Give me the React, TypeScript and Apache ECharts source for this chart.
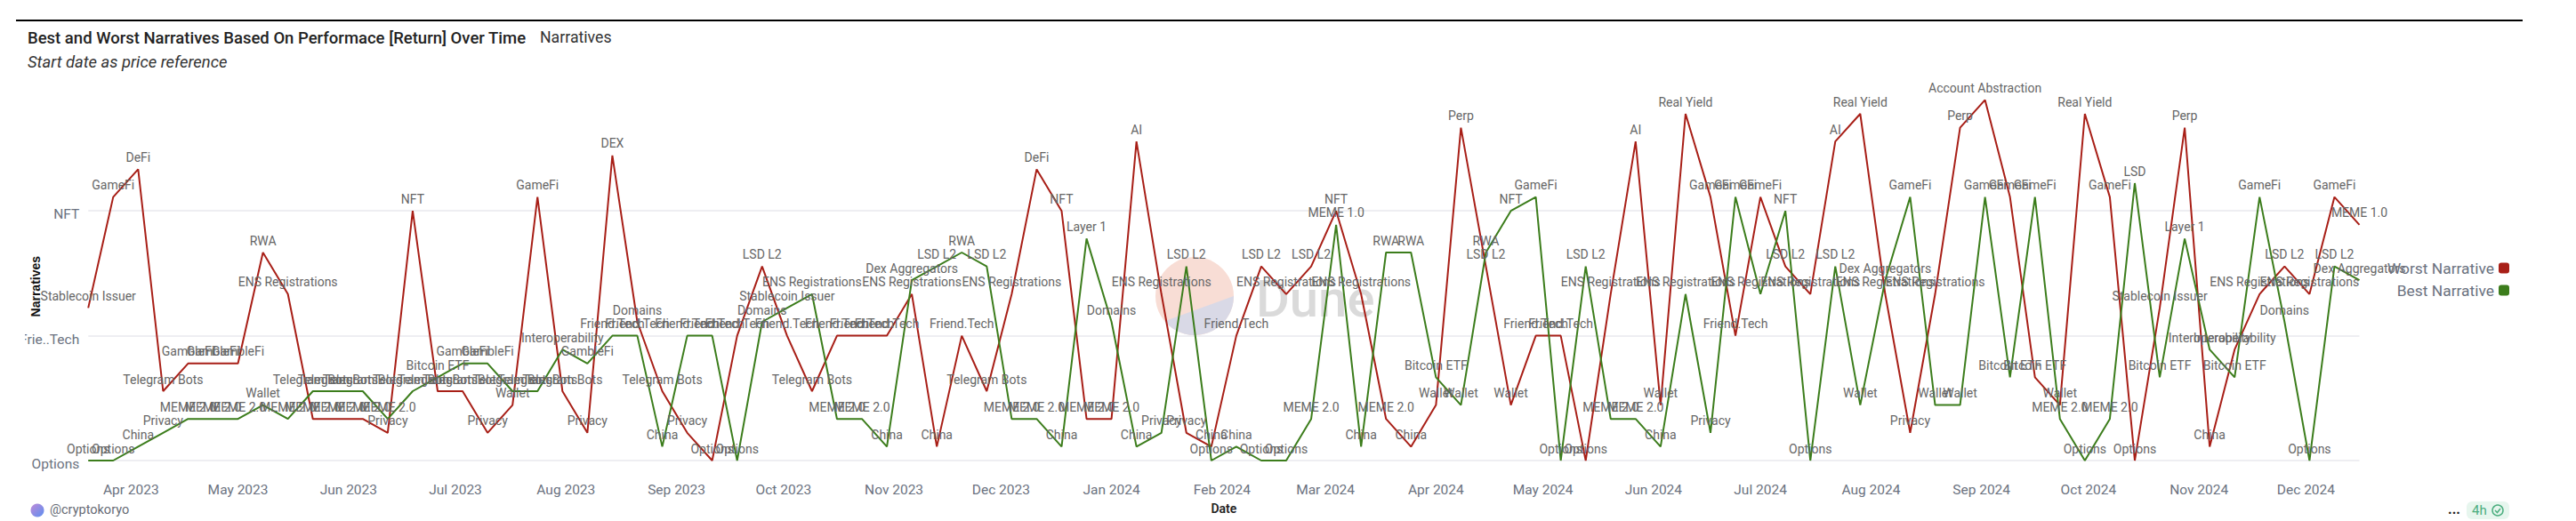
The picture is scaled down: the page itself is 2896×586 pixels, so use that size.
import React, { useEffect, useRef } from "react";
import * as echarts from "echarts";

const narrativeLevels = [
  "Options", "China", "Privacy", "MEME 2.0", "Wallet", "Telegram Bots", "Bitcoin ETF", "GambleFi", "Interoperability",
  "Friend.Tech", "Domains", "Stablecoin Issuer", "ENS Registrations", "Dex Aggregators", "LSD L2", "RWA", "Layer 1",
  "MEME 1.0", "NFT", "GameFi", "LSD", "DeFi", "DEX", "AI", "Perp", "Real Yield", "Account Abstraction",
];

const weeks = [
  "2023-03-20","2023-03-27","2023-04-03","2023-04-10","2023-04-17","2023-04-24","2023-05-01","2023-05-08","2023-05-15","2023-05-22","2023-05-29",
  "2023-06-05","2023-06-12","2023-06-19","2023-06-26","2023-07-03","2023-07-10","2023-07-17","2023-07-24","2023-07-31","2023-08-07","2023-08-14",
  "2023-08-21","2023-08-28","2023-09-04","2023-09-11","2023-09-18","2023-09-25","2023-10-02","2023-10-09","2023-10-16","2023-10-23","2023-10-30",
  "2023-11-06","2023-11-13","2023-11-20","2023-11-27","2023-12-04","2023-12-11","2023-12-18","2023-12-25","2024-01-01","2024-01-08","2024-01-15",
  "2024-01-22","2024-01-29","2024-02-05","2024-02-12","2024-02-19","2024-02-26","2024-03-04","2024-03-11","2024-03-18","2024-03-25","2024-04-01",
  "2024-04-08","2024-04-15","2024-04-22","2024-04-29","2024-05-06","2024-05-13","2024-05-20","2024-05-27","2024-06-03","2024-06-10","2024-06-17",
  "2024-06-24","2024-07-01","2024-07-08","2024-07-15","2024-07-22","2024-07-29","2024-08-05","2024-08-12","2024-08-19","2024-08-26","2024-09-02",
  "2024-09-09","2024-09-16","2024-09-23","2024-09-30","2024-10-07","2024-10-14","2024-10-21","2024-10-28","2024-11-04","2024-11-11","2024-11-18",
  "2024-11-25","2024-12-02","2024-12-09","2024-12-16",
];

const worstNarrative = [
  "Stablecoin Issuer","GameFi","DeFi","Telegram Bots","GambleFi","GambleFi","GambleFi","RWA","ENS Registrations","MEME 2.0",
  "MEME 2.0","MEME 2.0","Privacy","NFT","Telegram Bots","Telegram Bots","Privacy","Wallet","GameFi","Telegram Bots",
  "Privacy","DEX","Domains","Telegram Bots","Privacy","Options","Friend.Tech","LSD L2","Friend.Tech","Telegram Bots",
  "Friend.Tech","Friend.Tech","Friend.Tech","ENS Registrations","China","Friend.Tech","Telegram Bots","ENS Registrations","DeFi","NFT",
  "MEME 2.0","MEME 2.0","AI","ENS Registrations","Privacy","China","Friend.Tech","LSD L2","ENS Registrations","LSD L2",
  "NFT","ENS Registrations","MEME 2.0","China","Wallet","Perp","LSD L2","Wallet","Friend.Tech","Friend.Tech",
  "Options","ENS Registrations","AI","Wallet","Real Yield","GameFi","Friend.Tech","GameFi","LSD L2","ENS Registrations",
  "AI","Real Yield","ENS Registrations","Privacy","ENS Registrations","Perp","Account Abstraction","GameFi","Bitcoin ETF","Wallet",
  "Real Yield","GameFi","Options","Stablecoin Issuer","Perp","China","Interoperability","ENS Registrations","LSD L2","ENS Registrations",
  "GameFi","MEME 1.0",
];

const bestNarrative = [
  "Options","Options","China","Privacy","MEME 2.0","MEME 2.0","MEME 2.0","Wallet","MEME 2.0","Telegram Bots",
  "Telegram Bots","Telegram Bots","MEME 2.0","Telegram Bots","Bitcoin ETF","GambleFi","GambleFi","Telegram Bots","Telegram Bots","Interoperability",
  "GambleFi","Friend.Tech","Friend.Tech","China","Friend.Tech","Friend.Tech","Options","Domains","Stablecoin Issuer","ENS Registrations",
  "MEME 2.0","MEME 2.0","China","Dex Aggregators","LSD L2","RWA","LSD L2","MEME 2.0","MEME 2.0","China",
  "Layer 1","Domains","China","Privacy","LSD L2","Options","China","Options","Options","MEME 2.0",
  "MEME 1.0","China","RWA","RWA","Bitcoin ETF","Wallet","RWA","NFT","GameFi","Options",
  "LSD L2","MEME 2.0","MEME 2.0","China","ENS Registrations","Privacy","GameFi","ENS Registrations","NFT","Options",
  "LSD L2","Wallet","Dex Aggregators","GameFi","Wallet","Wallet","GameFi","Bitcoin ETF","GameFi","MEME 2.0",
  "Options","MEME 2.0","LSD","Bitcoin ETF","Layer 1","Interoperability","Bitcoin ETF","GameFi","Domains","Options",
  "LSD L2","Dex Aggregators",
];

const monthTicks = [
  "2023-04-01","2023-05-01","2023-06-01","2023-07-01","2023-08-01","2023-09-01","2023-10-01","2023-11-01","2023-12-01",
  "2024-01-01","2024-02-01","2024-03-01","2024-04-01","2024-05-01","2024-06-01","2024-07-01","2024-08-01","2024-09-01",
  "2024-10-01","2024-11-01","2024-12-01",
];

const RED = "#a81f17";
const GREEN = "#3c7d1c";
const FONT = "Roboto";
const AXIS_COLOR = "#6b7280";
const LABEL_COLOR = "#666666";

const ts = (d: string) => echarts.time.parse(d).getTime();

echarts.graphic.registerShape(
  "duneLower",
  echarts.graphic.extendPath("M 44 0 A 44 44 0 0 1 -33.7 28.3 Z", {})
);

function App() {
  const ref = useRef<HTMLDivElement>(null);
  useEffect(() => {
    const chart = echarts.init(ref.current!, undefined, { renderer: "svg" });
    const line = (name: string, values: string[], color: string) => ({
      name,
      type: "line",
      data: values.map((v, i) => [ts(weeks[i]), v]),
      showSymbol: true,
      showAllSymbol: true,
      symbol: "circle",
      symbolSize: 0,
      itemStyle: { color },
      lineStyle: { color, width: 2 },
      clip: false,
      label: {
        show: true,
        position: "top",
        distance: 6.5,
        fontFamily: FONT,
        fontSize: 14,
        color: LABEL_COLOR,
        formatter: (p: any) => p.value[1],
      },
    });
    chart.setOption({
      animation: false,
      backgroundColor: "#ffffff",
      textStyle: { fontFamily: FONT },
      title: [
        {
          text: "Best and Worst Narratives Based On Performace [Return] Over Time",
          left: 31,
          top: 33,
          padding: 0,
          textStyle: { fontFamily: FONT, fontSize: 18.5, fontWeight: 500, color: "#222222" },
        },
        {
          text: "Narratives",
          left: 607,
          top: 33,
          padding: 0,
          textStyle: { fontFamily: FONT, fontSize: 17.7, fontWeight: 400, color: "#333333" },
        },
        {
          text: "Start date as price reference",
          left: 31,
          top: 60,
          padding: 0,
          textStyle: { fontFamily: FONT, fontSize: 18.4, fontWeight: 400, fontStyle: "italic", color: "#333333" },
        },
      ],
      legend: {
        data: ["Worst Narrative", "Best Narrative"],
        orient: "vertical",
        align: "right",
        right: 75,
        top: 293,
        padding: 0,
        icon: "roundRect",
        itemWidth: 12,
        itemHeight: 12,
        itemGap: 8,
        textStyle: { fontFamily: FONT, fontSize: 17.4, color: AXIS_COLOR },
      },
      grid: { left: 99.2, right: 243.5, top: 112.4, bottom: 68, outerBoundsMode: "none" },
      xAxis: {
        type: "value",
        min: ts(weeks[0]),
        max: ts(weeks[weeks.length - 1]),
        name: "Date",
        nameLocation: "middle",
        nameMoveOverlap: false,
        nameGap: 47,
        nameTextStyle: { fontFamily: FONT, fontSize: 14, fontWeight: 600, color: "#222222" },
        axisLine: { show: false },
        axisTick: { show: false },
        splitLine: { show: false },
        axisLabel: {
          customValues: monthTicks.map(ts),
          formatter: (v: number) => echarts.time.format(v, "{MMM} {yyyy}", false),
          fontFamily: FONT,
          fontSize: 15.5,
          color: AXIS_COLOR,
          margin: 25,
          hideOverlap: false,
        },
      },
      yAxis: {
        type: "category",
        data: narrativeLevels,
        boundaryGap: false,
        name: "Narratives",
        nameLocation: "middle",
        nameMoveOverlap: false,
        nameGap: 52,
        nameTextStyle: { fontFamily: "Liberation Sans", fontSize: 14, fontWeight: "bold", color: "#111111", padding: [0, 14, 0, 0] },
        axisLine: { show: false },
        axisTick: { show: false },
        splitLine: { show: true, interval: 8, lineStyle: { color: "#e9e9ee", width: 1.5 } },
        axisLabel: {
          interval: 8,
          margin: 10,
          fontFamily: FONT,
          fontSize: 15.5,
          color: AXIS_COLOR,
          verticalAlign: "top",
          lineHeight: 8,
          formatter: (v: string) => (v === "Friend.Tech" ? "Frie..Tech" : v),
        },
      },
      series: [line("Worst Narrative", worstNarrative, RED), line("Best Narrative", bestNarrative, GREEN)],
      graphic: [
        { type: "rect", z: 100, shape: { x: 0, y: 368, width: 28, height: 30 }, style: { fill: "#ffffff" } },
        { type: "line", shape: { x1: 18, y1: 23, x2: 2836, y2: 23 }, style: { stroke: "#000000", lineWidth: 2 } },
        { type: "circle", z: -1, shape: { cx: 1343, cy: 333, r: 44 }, style: { fill: "#f8ddd5" } },
        { type: "duneLower", z: -1, x: 1343, y: 333, style: { fill: "#d9d9e6" } },
        {
          type: "text", z: -1, x: 1412, y: 307,
          style: { text: "Dune", fill: "#dadada", font: `500 58px ${FONT}` },
        },
        {
          type: "circle",
          shape: { cx: 42, cy: 574, r: 7.5 },
          style: {
            fill: new echarts.graphic.LinearGradient(0, 0, 1, 1, [
              { offset: 0, color: "#c08ad8" },
              { offset: 1, color: "#5b8ff0" },
            ]),
          },
        },
        {
          type: "text", x: 56, y: 566,
          style: { text: "@cryptokoryo", fill: "#666b75", font: `14.5px ${FONT}` },
        },
        {
          type: "text", x: 2752, y: 564,
          style: { text: "...", fill: "#222222", font: `bold 16px ${FONT}` },
        },
        { type: "rect", shape: { x: 2773, y: 564, width: 48, height: 20, r: 6 }, style: { fill: "#e7f6ee" } },
        {
          type: "text", x: 2779, y: 566,
          style: { text: "4h", fill: "#4cae7f", font: `15px ${FONT}` },
        },
        { type: "circle", shape: { cx: 2808, cy: 574, r: 6 }, style: { fill: "none", stroke: "#4cae7f", lineWidth: 1.5 } },
        {
          type: "polyline",
          shape: { points: [[2805, 574], [2807.5, 576.5], [2811, 572]] },
          style: { fill: "none", stroke: "#4cae7f", lineWidth: 1.5 },
        },
      ],
    });
    return () => chart.dispose();
  }, []);
  return <div ref={ref} style={{ position: "absolute", left: 0, top: 0, width: 2896, height: 586 }} />;
}

export default App;
